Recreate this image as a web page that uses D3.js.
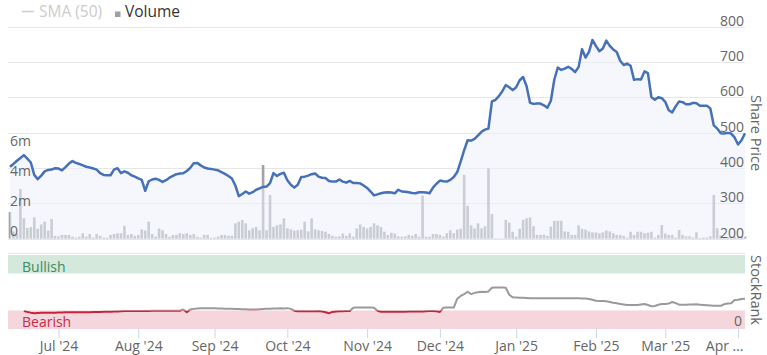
<!DOCTYPE html>
<html><head><meta charset="utf-8">
<script src="https://cdn.jsdelivr.net/npm/d3@7"></script>
<style>
html,body{margin:0;padding:0;background:#fff;}
svg{display:block;font-family:"Open Sans",sans-serif;}
</style></head>
<body><svg id="c" width="767" height="355"></svg>
<script>
// ---------- DATA ----------
const startDate = "2024-06-11", endDate = "2025-04-03"; // trading days (weekdays)
const price = [403,411,420,428,436,426,415,380,368,378,
390,394,395,399,398,393,402,412,419,414,
411,407,403,401,398,395,385,380,379,379,
395,399,385,390,386,379,375,370,366,335,
362,367,369,366,360,365,372,377,382,384,
385,391,400,413,414,407,401,398,397,395,
393,388,383,377,370,350,320,326,333,327,
331,338,342,346,347,357,385,377,383,386,
365,352,344,352,374,375,378,382,384,375,
372,371,363,361,361,367,361,358,363,357,
357,356,350,343,333,322,325,328,330,331,
330,328,338,333,332,331,329,328,331,331,
330,328,344,355,364,362,361,366,374,388,
418,450,478,477,482,492,502,508,511,588,
592,603,617,634,628,620,628,648,657,631,
584,581,582,582,577,570,590,650,684,677,
681,686,680,671,685,736,712,728,762,745,
730,738,760,745,735,728,703,691,695,689,
649,651,650,673,668,600,593,600,597,587,
563,557,574,588,586,580,580,584,583,576,
576,576,568,520,511,498,497,499,497,486,
466,478,498];
const volumeM = [1.77,0.47,0.35,3.3,1.35,0.7,0.77,1.41,0.65,0.94,
1.12,0.53,1.3,0.18,0.14,0.24,0.24,0.24,0.12,0.06,
0.12,0.35,0.12,0.3,0.06,0.3,0.18,0.06,0.06,0.24,
0.3,0.35,0.35,0.85,0.24,0.3,0.18,0.24,0.61,0.53,
1.12,0.3,0.12,0.67,0.55,0.3,0.12,0.24,0.24,0.35,
0.3,0.35,0.24,0.3,0.12,0.06,0.24,0.24,0.06,0.06,
0.12,0.24,0.24,0.18,0.18,1.01,1.12,1.24,1.01,0.55,
0.68,0.77,0.55,4.9,0.55,2.9,0.77,0.88,0.94,1.34,
0.67,0.61,0.53,0.55,0.59,1.12,0.47,1.34,0.61,0.55,
0.51,0.45,0.3,0.18,0.12,0.14,0.33,0.18,0.35,0.12,
0.67,0.94,0.77,0.67,0.77,1.01,0.88,0.77,0.45,0.24,
0.38,0.33,0.14,0.12,0.14,0.24,0.18,0.3,0.12,2.85,
0.12,0.12,0.3,0.3,0.24,0.12,0.35,0.55,0.35,0.59,
0.65,4.24,2.18,0.88,0.67,1.01,0.67,0.82,4.68,1.63,
0.02,0.02,0.02,1.24,1.06,0.45,0.12,0.65,1.24,1.35,
1.41,0.82,0.24,0.24,0.26,0.18,0.79,1.18,1.18,1.18,
0.47,0.45,0.24,0.24,0.88,0.65,0.59,0.47,0.41,0.41,
0.35,0.41,0.53,0.47,0.35,0.24,0.24,0.18,0.06,0.45,
0.24,0.45,0.45,0.35,0.39,0.45,0.06,0.24,0.9,0.33,
0.24,0.24,0.06,0.57,0.24,0.14,0.14,0.06,0.41,0.03,
0.06,0.06,0.14,2.9,0.68,0.2,0.12,0.1,0.1,0.12,
0.1,0.15,0.12];
const stockRank = [null,null,null,null,24.3,23.1,22.1,21.4,21.6,21.9,
22.1,22.1,22.1,22.1,22.4,22.4,22.6,22.6,22.6,22.6,
22.6,22.8,22.8,22.8,23.1,23.1,23.1,23.3,23.4,23.4,
23.6,23.8,24.1,24.3,24.3,24.3,24.3,24.4,24.4,24.4,
24.4,24.5,24.5,24.5,24.5,24.5,24.6,24.6,24.6,24.7,
26.3,22.6,26.5,27.2,27.7,28,28,28,27.9,27.9,
27.7,27.7,27.5,27.4,27.2,27,26.9,26.7,26.7,26.5,
26.5,26.5,26.7,26.9,27.2,27.5,27.7,27.7,28,27.7,
28.2,27.2,24.8,24.1,23.9,23.9,24,24.1,24.1,24.2,
23.8,22.6,21.2,23.1,23.8,24.1,24.1,24.2,24.4,28.8,
29,29,29,29,29,28.8,24.6,23.4,23.2,23.2,
23.2,23.3,23.3,23.4,23.4,23.5,23.6,23.6,23.7,23.8,
24.1,24.2,24.3,24.1,23.1,28.8,29,29,29,41,
44.7,47.2,50.3,47.2,48.8,49.8,50.3,50,50.8,55.8,
56,56,56,55.8,46.2,42.8,42.6,42.3,42.1,41.9,
41.7,41.6,41.6,41.7,41.7,41.6,41.5,41.5,41.6,41.7,
41.7,41.6,41.5,41.5,41.4,41.3,41.1,40.6,39.5,38.2,
37.8,37.8,37.5,36.5,35.5,34.7,33.9,33.2,32.5,32.5,
32.4,32.5,33.1,33.8,32.4,30.8,31.1,32.7,33.8,33.9,
34.4,36.5,34.9,32.9,32.7,32.9,33.2,33.1,33.4,32.9,
32.4,32,31.6,31.3,31.3,31.3,33.4,34.4,34.9,39.2,
39.5,40.6,40.9];
const priceTicks = [200,300,400,500,600,700,800];
const volumeTicks = [0,2,4,6];
const volumeTickLabels = ["0","2m","4m","6m"];
const rankBands = [{name:"Bearish",from:0,to:25},{name:"Bullish",from:75,to:100}];
const rankThreshold = 25;
const legendItems = ["SMA (50)","Volume"];

// ---------- DATES ----------
const dates = [];
for (let d = new Date(startDate+"T00:00:00"); d <= new Date(endDate+"T00:00:00"); d.setDate(d.getDate()+1)) {
  const wd = d.getDay();
  if (wd !== 0 && wd !== 6) dates.push(new Date(d));
}
const monthStarts = [];
dates.forEach((d,i)=>{ if(i>0 && d.getMonth()!==dates[i-1].getMonth()) monthStarts.push(i); });
const fmt = d3.timeFormat("%b '%y");

// ---------- SCALES ----------
const svg = d3.select("#c");
const x = d3.scaleLinear().domain([0, dates.length-1]).range([10, 745]);
const yP = d3.scaleLinear().domain([200, 800]).range([238.5, 26.5]);
const yV = d3.scaleLinear().domain([0, 14.133]).range([238.5, 26.5]);
const yR = d3.scaleLinear().domain([0, 100]).range([329, 255]);

// ---------- GRID ----------
svg.append("g").selectAll("line").data(priceTicks).join("line")
  .attr("x1", 8).attr("x2", 745)
  .attr("y1", d=>Math.round(yP(d))+0.5).attr("y2", d=>Math.round(yP(d))+0.5)
  .attr("stroke", "#e6e6e6");

// ---------- VOLUME BARS ----------
svg.append("g").selectAll("rect").data(volumeM).join("rect")
  .attr("x", (d,i)=>x(i)-1.3).attr("width", 2.6)
  .attr("y", d=>yV(d)).attr("height", d=>yV(0)-yV(d))
  .attr("fill", "#a2a2a7");

// ---------- PRICE AREA + LINE ----------
const area = d3.area().x((d,i)=>x(i)).y0(yP(200)).y1(d=>yP(d));
svg.append("path").datum(price).attr("d", area)
  .attr("fill", "rgb(236,240,250)").attr("fill-opacity", 0.55);
const line = d3.line().x((d,i)=>x(i)).y(d=>yP(d));
svg.append("path").datum(price).attr("d", line)
  .attr("fill","none").attr("stroke","#4670b8").attr("stroke-width",2.5)
  .attr("stroke-linejoin","round");

// ---------- AXIS LABELS (top panel) ----------
svg.append("g").selectAll("text").data(priceTicks).join("text")
  .attr("x", 744).attr("y", d=>yP(d)-1).attr("text-anchor","end")
  .attr("font-size", 14).attr("fill", "#666").text(d=>d);
svg.append("g").selectAll("text").data(volumeTicks).join("text")
  .attr("x", 10).attr("y", d=>yV(d)-2.5)
  .attr("font-size", 14).attr("fill", "#666").text((d,i)=>volumeTickLabels[i]);
svg.append("text").attr("transform","translate(751,133) rotate(90)")
  .attr("text-anchor","middle").attr("font-size",14.5).attr("fill","#666").text("Share Price");

// ---------- LEGEND ----------
svg.append("line").attr("x1",22).attr("x2",34).attr("y1",11.5).attr("y2",11.5)
  .attr("stroke","#cccccc").attr("stroke-width",1.5);
svg.append("text").attr("x",39).attr("y",17).attr("font-size",15.5).attr("fill","#cccccc").text(legendItems[0]);
svg.append("rect").attr("x",115).attr("y",11.5).attr("width",5.5).attr("height",5.5).attr("fill","#a0a0a0");
svg.append("text").attr("x",125).attr("y",17).attr("font-size",15.5).attr("fill","#333").text(legendItems[1]);

// ---------- STOCKRANK PANEL ----------
svg.append("line").attr("x1",8).attr("x2",745).attr("y1",253.5).attr("y2",253.5).attr("stroke","#e6e6e6");
const bandColors = {Bearish:"#f5d6dc", Bullish:"#d5e8dc"};
const bandText = {Bearish:"#c42e4a", Bullish:"#3a8c5a"};
svg.append("g").selectAll("rect").data(rankBands).join("rect")
  .attr("x", 8).attr("width", 737)
  .attr("y", d=>yR(d.to)).attr("height", d=>yR(d.from)-yR(d.to))
  .attr("fill", d=>bandColors[d.name]);
svg.append("g").selectAll("text").data(rankBands).join("text")
  .attr("x", 22).attr("y", d=>yR(d.from)-2)
  .attr("font-size", 14).attr("fill", d=>bandText[d.name]).text(d=>d.name);

const defs = svg.append("defs");
defs.append("clipPath").attr("id","above").append("rect")
  .attr("x",0).attr("y",0).attr("width",767).attr("height",yR(rankThreshold));
defs.append("clipPath").attr("id","below").append("rect")
  .attr("x",0).attr("y",yR(rankThreshold)).attr("width",767).attr("height",355-yR(rankThreshold));
const rline = d3.line().defined(d=>d!==null).x((d,i)=>x(i)).y(d=>yR(d));
svg.append("path").datum(stockRank).attr("d", rline).attr("clip-path","url(#above)")
  .attr("fill","none").attr("stroke","#9a9a9a").attr("stroke-width",2).attr("stroke-linejoin","round");
svg.append("path").datum(stockRank).attr("d", rline).attr("clip-path","url(#below)")
  .attr("fill","none").attr("stroke","#c7243c").attr("stroke-width",2).attr("stroke-linejoin","round");

svg.append("text").attr("x",742).attr("y",yR(0)-3).attr("text-anchor","end")
  .attr("font-size",14).attr("fill","#666").text("0");
svg.append("text").attr("transform","translate(751,290) rotate(90)")
  .attr("text-anchor","middle").attr("font-size",14.5).attr("fill","#666").text("StockRank");

// ---------- X AXIS ----------
const lastTick = monthStarts[monthStarts.length-1];
const xAxis = d3.axisBottom(x).tickValues(monthStarts).tickSize(9).tickPadding(3)
  .tickFormat(i => i===lastTick ? fmt(dates[i]).slice(0,4)+"…" : fmt(dates[i]));
const gx = svg.append("g").attr("transform","translate(0,329)").call(xAxis);
gx.select(".domain").remove();
gx.selectAll(".tick line").attr("stroke","#ccd6eb");
gx.selectAll(".tick text").attr("font-size",14).attr("fill","#666")
  .attr("font-family","Open Sans, sans-serif");
gx.selectAll(".tick").filter(d=>d===lastTick).select("text")
  .attr("text-anchor","end").attr("x", 743 - x(lastTick));
</script></body></html>
